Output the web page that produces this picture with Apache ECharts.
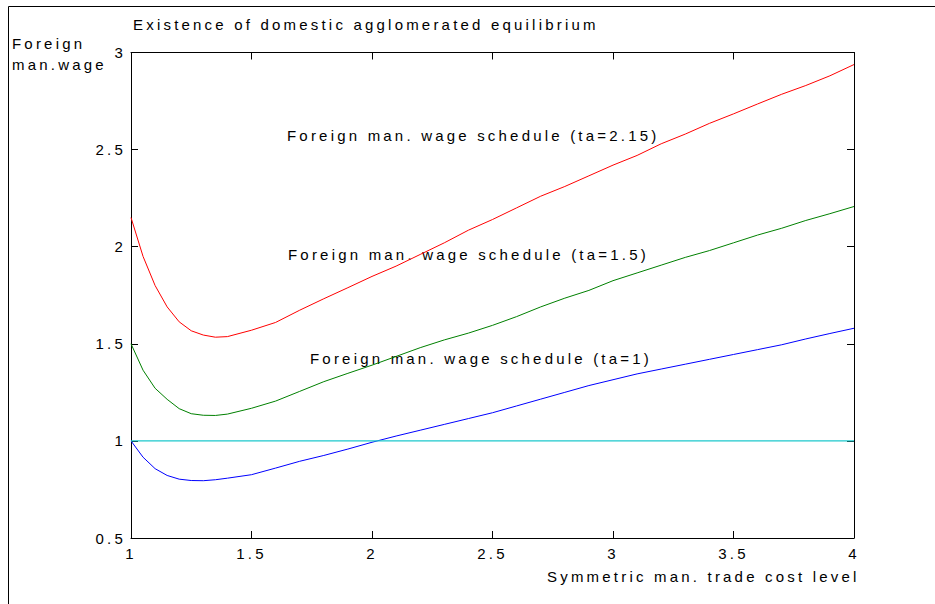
<!DOCTYPE html>
<html><head><meta charset="utf-8">
<script src="https://cdn.jsdelivr.net/npm/echarts@6/dist/echarts.min.js"></script>
<style>
html,body{margin:0;padding:0;background:#fff;}
#chart{width:935px;height:604px;}
#chart svg text{letter-spacing:3.2px;}
</style></head><body><div id="chart"></div>
<script>
// ---- data ----
const tradeCost = [1,1.05,1.1,1.15,1.2,1.25,1.3,1.35,1.4,1.5,1.6,1.7,1.8,1.9,2.0,2.1,2.2,2.3,2.4,2.5,2.6,2.7,2.8,2.9,3.0,3.1,3.2,3.3,3.4,3.5,3.6,3.7,3.8,3.9,4.0];
const wageTa215 = [2.15,1.95,1.80,1.69,1.613,1.567,1.545,1.534,1.537,1.570,1.610,1.673,1.732,1.789,1.847,1.90,1.96,2.02,2.085,2.14,2.20,2.26,2.31,2.365,2.42,2.47,2.53,2.58,2.635,2.684,2.735,2.785,2.83,2.88,2.938];
const wageTa15 = [1.5,1.364,1.271,1.214,1.166,1.140,1.132,1.131,1.138,1.168,1.205,1.255,1.305,1.348,1.39,1.435,1.48,1.52,1.555,1.595,1.64,1.69,1.735,1.775,1.825,1.865,1.905,1.945,1.98,2.02,2.06,2.095,2.135,2.17,2.207];
const wageTa1 = [1.0,0.916,0.857,0.822,0.803,0.796,0.795,0.80,0.808,0.826,0.86,0.895,0.925,0.958,0.993,1.025,1.055,1.085,1.115,1.145,1.18,1.215,1.25,1.285,1.315,1.345,1.37,1.395,1.42,1.445,1.47,1.495,1.525,1.553,1.58];
const refX = [1, 4];
const refY = [1, 1];
const xTickLabels = ['1','1.5','2','2.5','3','3.5','4'];
const yTickLabels = ['0.5','1','1.5','2','2.5','3'];
const titleText = 'Existence of domestic agglomerated equilibrium';
const xName = 'Symmetric man. trade cost level';
const yName = 'Foreign\nman.wage';
const seriesLabels = ['Foreign man. wage schedule (ta=2.15)','Foreign man. wage schedule (ta=1.5)','Foreign man. wage schedule (ta=1)'];

const pairs = (xs, ys) => xs.map((x, i) => [x, ys[i]]);
const FONT = 'Liberation Sans, Arial, sans-serif';

const chart = echarts.init(document.getElementById('chart'), null, {renderer: 'svg'});

function axisCommon(min, max, labels, pos, show) {
  return {
    type: 'value', min: min, max: max, interval: 0.5, position: pos,
    axisLine: {show: true, onZero: false, lineStyle: {color: '#000', width: 1}},
    axisTick: {show: true, inside: true, length: 7, lineStyle: {color: '#000', width: 1}},
    axisLabel: {
      show: show, color: '#000', fontSize: 15, fontFamily: FONT,
      formatter: v => { const i = Math.round((v - min) / 0.5); return labels[i] !== undefined ? labels[i] : ''; }
    },
    splitLine: {show: false}
  };
}

const xb = axisCommon(1, 4, xTickLabels, 'bottom', true); xb.axisLabel.margin = 8;
const xt = axisCommon(1, 4, xTickLabels, 'top', false);
const yl = axisCommon(0.5, 3, yTickLabels, 'left', true); yl.axisLabel.margin = 5;
const yr = axisCommon(0.5, 3, yTickLabels, 'right', false);

function txt(text, x, y, extra) {
  return Object.assign({
    type: 'text', x: x, y: y, silent: true,
    style: {text: text, fill: '#000', fontSize: 15, fontFamily: FONT, textAlign: 'left', textVerticalAlign: 'middle'}
  }, extra || {});
}

chart.setOption({
  animation: false,
  backgroundColor: '#fff',
  grid: {left: 131, right: 81, top: 52.5, bottom: 66, containLabel: false},
  xAxis: [xb, xt],
  yAxis: [yl, yr],
  series: [
    {type: 'line', data: pairs(tradeCost, wageTa215), showSymbol: false, lineStyle: {color: '#ff0000', width: 1}, itemStyle: {color: '#ff0000'}},
    {type: 'line', data: pairs(tradeCost, wageTa15), showSymbol: false, lineStyle: {color: '#008000', width: 1}, itemStyle: {color: '#008000'}},
    {type: 'line', data: pairs(tradeCost, wageTa1), showSymbol: false, lineStyle: {color: '#0000ff', width: 1}, itemStyle: {color: '#0000ff'}},
    {type: 'line', data: pairs(refX, refY), showSymbol: false, lineStyle: {color: '#1cc8cc', width: 1.2}, itemStyle: {color: '#1cc8cc'}}
  ],
  graphic: [
    {type: 'line', silent: true, shape: {x1: 8.5, y1: 6.5, x2: 8.5, y2: 604}, style: {stroke: '#000', lineWidth: 1}},
    {type: 'line', silent: true, shape: {x1: 8.5, y1: 6.5, x2: 935, y2: 6.5}, style: {stroke: '#000', lineWidth: 1}},
    txt(titleText, 133, 24),
    {type: 'text', x: 12, y: 33, silent: true, style: {text: yName, fill: '#000', fontSize: 15, fontFamily: FONT, textAlign: 'left', textVerticalAlign: 'top', lineHeight: 21}},
    txt(xName, 547, 576),
    txt(seriesLabels[0], 287, 135),
    txt(seriesLabels[1], 288, 254),
    txt(seriesLabels[2], 310, 358)
  ]
});
</script></body></html>
